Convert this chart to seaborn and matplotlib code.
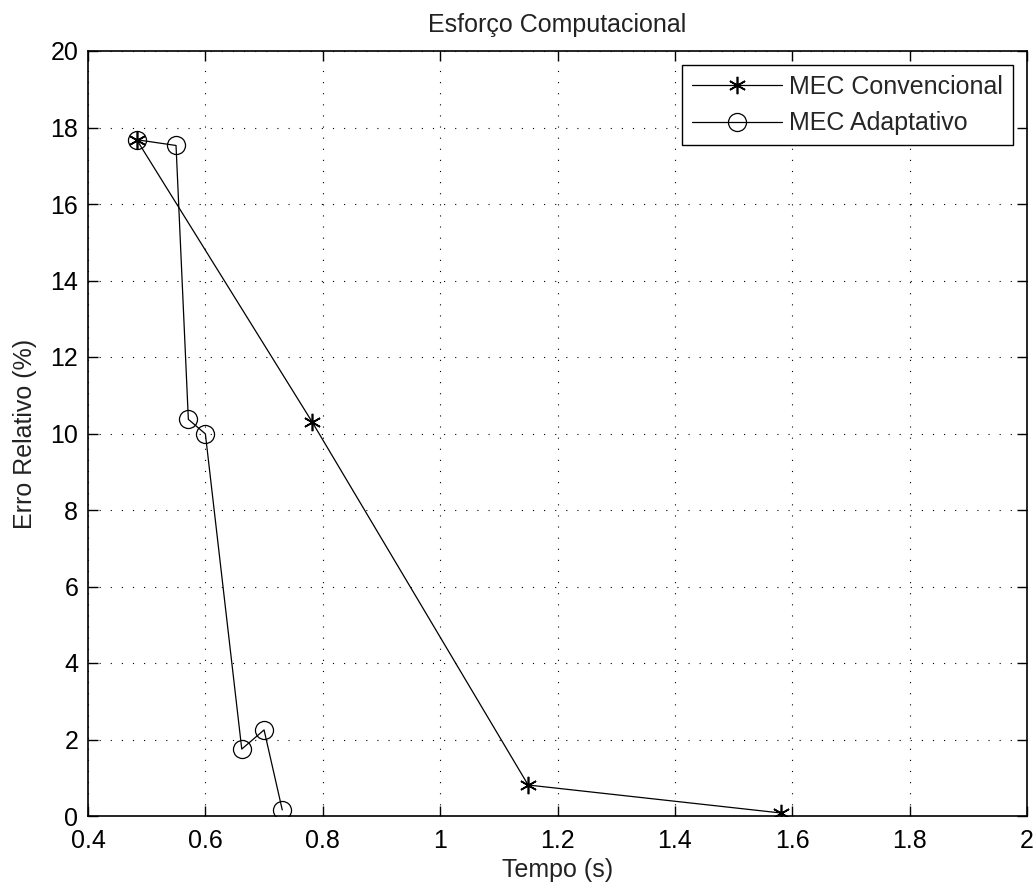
import matplotlib
matplotlib.use("Agg")
import matplotlib.pyplot as plt
import seaborn as sns
import numpy as np

# Data
conv_tempo = [0.483, 0.782, 1.15, 1.58]
conv_erro = [17.68, 10.30, 0.81, 0.08]
adap_tempo = [0.483, 0.550, 0.571, 0.600, 0.662, 0.700, 0.731]
adap_erro = [17.68, 17.53, 10.37, 9.99, 1.75, 2.25, 0.16]

title = "Esforço Computacional"
xlabel = "Tempo (s)"
ylabel = "Erro Relativo (%)"
label_conv = "MEC Convencional"
label_adap = "MEC Adaptativo"
xticks = [0.4, 0.6, 0.8, 1.0, 1.2, 1.4, 1.6, 1.8, 2.0]
xticklabels = ["0.4", "0.6", "0.8", "1", "1.2", "1.4", "1.6", "1.8", "2"]
yticks = [0, 2, 4, 6, 8, 10, 12, 14, 16, 18, 20]

sns.set_style("white")
plt.rcParams['font.family'] = ['Liberation Sans', 'DejaVu Sans']
plt.rcParams['font.size'] = 18

fig = plt.figure(figsize=(10.35, 8.89), dpi=100)
ax = fig.add_axes([88/1035, (889-816)/889, (1027-88)/1035, (816-51)/889])

asterisk = (6, 2, 0)
sns.lineplot(x=conv_tempo, y=conv_erro, sort=False, estimator=None, ax=ax,
             color='k', linewidth=0.9, marker=asterisk, markersize=12.5,
             markeredgewidth=1.2, markeredgecolor='k', label=label_conv)
sns.lineplot(x=adap_tempo, y=adap_erro, sort=False, estimator=None, ax=ax,
             color='k', linewidth=0.9, marker='o', markersize=13,
             markerfacecolor='none', markeredgewidth=0.9, markeredgecolor='k',
             label=label_adap)

ax.set_xlim(0.4, 2.0)
ax.set_ylim(0, 20)
ax.set_xticks(xticks)
ax.set_xticklabels(xticklabels)
ax.set_yticks(yticks)
ax.set_yticklabels([str(v) for v in yticks])

ax.grid(True, color='k', linestyle=(0, (1, 9)), linewidth=0.8)
ax.set_axisbelow(True)

for s in ax.spines.values():
    s.set_visible(True)
    s.set_color('k')
    s.set_linewidth(1.2)

ax.tick_params(axis='both', which='major', direction='in', length=7, width=1.0,
               colors='k', labelsize=18, top=True, right=True, bottom=True, left=True,
               pad=7)
ax.tick_params(axis='x', pad=9)

ax.set_title(title, fontsize=18, pad=14, color='#222222')
ax.set_xlabel(xlabel, fontsize=18, labelpad=4, color='#222222')
ax.set_ylabel(ylabel, fontsize=18, labelpad=10, color='#222222')

leg = ax.legend(loc='upper right', fontsize=18, frameon=True, fancybox=False,
                edgecolor='k', framealpha=1, handlelength=3.6, handletextpad=0.3,
                labelspacing=0.5, borderpad=0.4, borderaxespad=0.55)
leg.get_frame().set_linewidth(1.0)

fig.savefig("out.png", dpi=100)
